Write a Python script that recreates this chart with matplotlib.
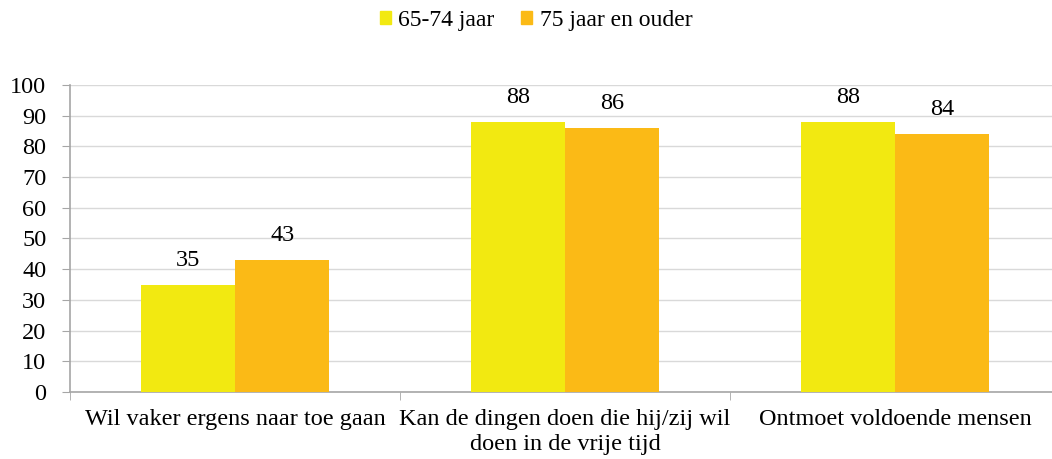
import numpy as np
import matplotlib
matplotlib.use('Agg')
from matplotlib import pyplot as plt
from matplotlib.patches import Patch

categories = ['Wil vaker ergens naar toe gaan',
              'Kan de dingen doen die hij/zij wil\ndoen in de vrije tijd',
              'Ontmoet voldoende mensen']
series_names = ['65-74 jaar', '75 jaar en ouder']
jong = [35, 88, 88]
oud = [43, 86, 84]
colors = ['#F2E911', '#FBBA16']

plt.rcParams['font.family'] = ['Liberation Serif', 'DejaVu Serif']
fs = 17.5

fig = plt.figure(figsize=(10.52, 4.59), dpi=100)
# plot area runs a little past the right edge of the figure
ax = fig.add_axes([0.0665, 0.146, 0.941, 0.669])

x = np.arange(len(categories))
w = 0.286
for vals, off, c in [(jong, -w / 2, colors[0]), (oud, w / 2, colors[1])]:
    bars = ax.bar(x + off, vals, w, color=c, zorder=3)
    for b, v in zip(bars, vals):
        ax.annotate(str(v), (b.get_x() + b.get_width() / 2, v),
                    xytext=(0, 10), textcoords='offset points',
                    ha='center', va='bottom', fontsize=fs)

ax.set_xlim(-0.5, len(categories) - 0.5)
ax.set_ylim(0, 100)
ax.set_yticks(range(0, 101, 10))
ax.yaxis.grid(True, color='#D9D9D9', linewidth=1, zorder=0)
ax.set_axisbelow(True)

# category labels in the middle, tick marks on the boundaries
ax.set_xticks(x)
ax.set_xticklabels(categories, fontsize=fs, linespacing=1.3)
ax.tick_params(axis='x', length=0, pad=12)
ax.set_xticks(np.arange(-0.5, len(categories)), minor=True)
ax.tick_params(axis='x', which='minor', length=6, color='#A6A6A6')
ax.tick_params(axis='y', length=6, color='#A6A6A6', labelsize=fs, pad=11)

for s in ['top', 'right']:
    ax.spines[s].set_visible(False)
for s in ['left', 'bottom']:
    ax.spines[s].set_color('#A6A6A6')
    ax.spines[s].set_linewidth(1.2)

handles = [Patch(color=c) for c in colors]
fig.legend(handles, series_names, loc='upper center', ncol=2, frameon=False,
           fontsize=17, bbox_to_anchor=(0.5095, 1.025), handlelength=0.47,
           handleheight=0.47, handletextpad=0.3, columnspacing=1.15)

fig.savefig('out.png', dpi=100)
